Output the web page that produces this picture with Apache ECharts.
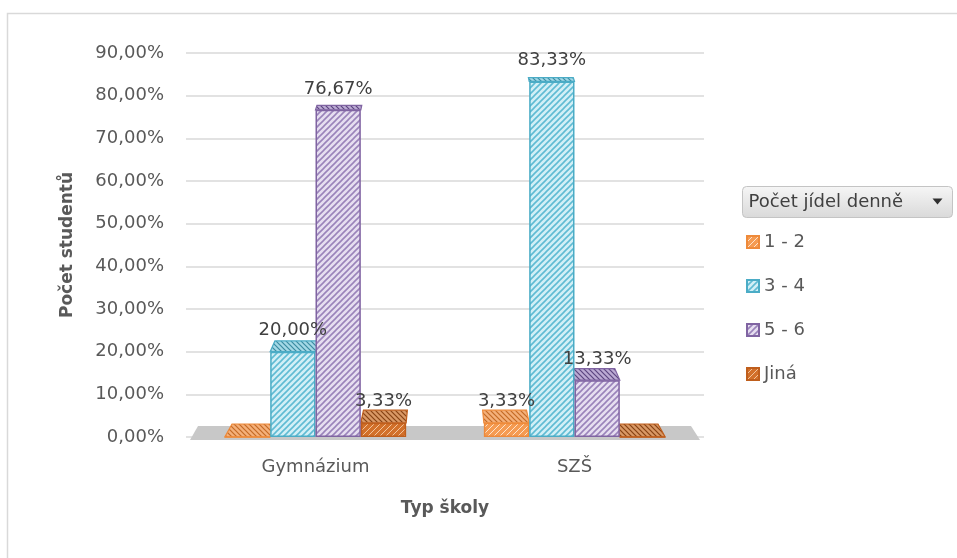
<!DOCTYPE html>
<html>
<head>
<meta charset="utf-8">
<script src="https://cdn.jsdelivr.net/npm/echarts@6/dist/echarts.min.js"></script>
<style>
  html, body { margin: 0; padding: 0; background: #ffffff; }
  #chart { width: 957px; height: 558px; }
</style>
</head>
<body>
<div id="chart"></div>
<script>
// School types on the category axis
const categories = ['Gymnázium', 'SZŠ'];
// Meals per day (legend entries)
const seriesNames = ['1 - 2', '3 - 4', '5 - 6', 'Jiná'];
// Share of students per school type, in percent
const values12 = [0, 3.33];
const values34 = [20, 83.33];
const values56 = [76.67, 13.33];
const valuesOther = [3.33, 0];
// Value axis range
const axisMax = 90;
const axisStep = 10;

const seriesValues = [values12, values34, values56, valuesOther];

const FONT = 'DejaVu Sans';
const TEXT = '#595959';
const BAR_FRAC = 0.175;

const palette = [
  { edge: '#EE8A3A', face: '#F59B52', hatch: '#FDE3CB', lw: 1.0, top: '#F4B07A', topHatch: '#C46A26' },
  { edge: '#4BACC6', face: '#D2EFF6', hatch: '#5FBBD3', lw: 1.6, top: '#A3D8E6', topHatch: '#3A8BA1' },
  { edge: '#8064A2', face: '#E6DEF0', hatch: '#9A83BA', lw: 1.6, top: '#BBAAD3', topHatch: '#5C4680' },
  { edge: '#BF5E1C', face: '#D2702A', hatch: '#F2C39B', lw: 1.0, top: '#D99865', topHatch: '#874214' }
];

// Diagonal hatch tile used as a repeating fill
function hatch(bg, fg, size, lw, backslash) {
  const c = document.createElement('canvas');
  c.width = c.height = size;
  const g = c.getContext('2d');
  g.fillStyle = bg;
  g.fillRect(0, 0, size, size);
  g.strokeStyle = fg;
  g.lineWidth = lw;
  g.beginPath();
  if (!backslash) {
    g.moveTo(-1, size + 1); g.lineTo(size + 1, -1);
    g.moveTo(-1, 1); g.lineTo(1, -1);
    g.moveTo(size - 1, size + 1); g.lineTo(size + 1, size - 1);
  } else {
    g.moveTo(-1, -1); g.lineTo(size + 1, size + 1);
    g.moveTo(size - 1, -1); g.lineTo(size + 1, 1);
    g.moveTo(-1, size - 1); g.lineTo(1, size + 1);
  }
  g.stroke();
  return { image: c, repeat: 'repeat' };
}

function fmtPct(v) {
  return v.toFixed(2).replace('.', ',') + '%';
}

// Top face of each column, drawn in perspective above the front face
function capRenderer(si) {
  const p = palette[si];
  const fill = hatch(p.top, p.topHatch, 5, 1.2, true);
  return function (params, api) {
    const cs = params.coordSys;
    const cat = api.value(0);
    const val = api.value(1);
    const band = api.size([1, 0])[0];
    const bw = band * BAR_FRAC;
    const c = api.coord([cat, val]);
    const xl = c[0] + (si - 2) * bw;
    const xr = xl + bw;
    const y = c[1];
    const depth = 3 + 10 * (y - cs.y) / cs.height;
    const vx = cs.x + cs.width / 2;
    const k = depth * 0.0025;
    return {
      type: 'polygon',
      shape: {
        points: [
          [xl, y], [xr, y],
          [xr + (vx - xr) * k, y - depth],
          [xl + (vx - xl) * k, y - depth]
        ]
      },
      style: { fill: fill, stroke: p.edge, lineWidth: 1.2 }
    };
  };
}

// Grey floor of the plot
function floorRenderer(params, api) {
  const cs = params.coordSys;
  const y0 = api.coord([0, 0])[1];
  const l = cs.x, r = cs.x + cs.width;
  return {
    type: 'polygon',
    shape: {
      points: [
        [l + 4, y0 + 3], [r - 4, y0 + 3],
        [r - 13, y0 - 11], [l + 12, y0 - 11]
      ]
    },
    style: { fill: '#c8c8c8', stroke: null }
  };
}

const barSeries = seriesNames.map(function (name, i) {
  const p = palette[i];
  return {
    name: name,
    type: 'bar',
    data: seriesValues[i],
    barWidth: (BAR_FRAC * 100) + '%',
    barGap: '0%',
    z: 4,
    itemStyle: {
      color: hatch(p.face, p.hatch, 6, p.lw, false),
      borderColor: p.edge,
      borderWidth: 1.5
    },
    label: {
      show: true,
      position: 'top',
      distance: 12,
      fontFamily: FONT,
      fontSize: 18,
      color: '#404040',
      formatter: function (d) { return d.value === 0 ? '' : fmtPct(d.value); }
    },
    emphasis: { disabled: true }
  };
});

const capSeries = seriesNames.map(function (name, i) {
  return {
    type: 'custom',
    z: 3,
    silent: true,
    renderItem: capRenderer(i),
    encode: { x: 0, y: 1 },
    data: seriesValues[i].map(function (v, j) { return [j, v]; })
  };
});

const floorSeries = {
  type: 'custom',
  z: 1,
  silent: true,
  renderItem: floorRenderer,
  encode: { x: 0, y: 1 },
  data: [[0, 0]]
};

const chart = echarts.init(document.getElementById('chart'), null, { renderer: 'canvas' });

chart.setOption({
  backgroundColor: '#ffffff',
  animation: false,
  textStyle: { fontFamily: FONT },
  grid: { left: 186, right: 253, top: 53, bottom: 121 },
  legend: {
    data: seriesNames,
    orient: 'vertical',
    left: 741,
    top: 227,
    itemWidth: 12,
    itemHeight: 12,
    itemGap: 24,
    icon: 'rect',
    selectedMode: false,
    textStyle: { fontFamily: FONT, fontSize: 18, color: TEXT, lineHeight: 20 }
  },
  xAxis: {
    type: 'category',
    data: categories,
    name: 'Typ školy',
    nameLocation: 'middle',
    nameGap: 63,
    nameTextStyle: { fontFamily: FONT, fontSize: 17, fontWeight: 'bold', color: TEXT },
    axisLine: { show: false },
    axisTick: { show: false },
    axisLabel: { fontFamily: FONT, fontSize: 18, color: TEXT, margin: 21 }
  },
  yAxis: {
    type: 'value',
    min: 0,
    max: axisMax,
    interval: axisStep,
    name: 'Počet studentů',
    nameLocation: 'middle',
    nameGap: 110,
    nameTextStyle: { fontFamily: FONT, fontSize: 17, fontWeight: 'bold', color: TEXT },
    axisLine: { show: false },
    axisTick: { show: false },
    axisLabel: {
      fontFamily: FONT, fontSize: 18, color: TEXT, margin: 22,
      formatter: function (v) { return fmtPct(v); }
    },
    splitLine: { lineStyle: { color: '#d9d9d9', width: 1.5 } }
  },
  graphic: [
    {
      type: 'rect',
      left: 5, top: 11,
      shape: { width: 960, height: 560 },
      style: { fill: 'none', stroke: '#d9d9d9', lineWidth: 1.5 },
      silent: true
    },
    {
      type: 'group',
      left: 742, top: 186,
      children: [
        {
          type: 'rect',
          shape: { x: 0, y: 0, width: 210, height: 31, r: 4 },
          style: {
            fill: new echarts.graphic.LinearGradient(0, 0, 0, 1, [
              { offset: 0, color: '#f6f6f6' },
              { offset: 1, color: '#d9d9d9' }
            ]),
            stroke: '#c4c4c4', lineWidth: 1
          }
        },
        {
          type: 'text',
          x: 6, y: 15.5,
          style: {
            text: 'Počet jídel denně',
            fontFamily: FONT, fontSize: 18, fill: '#404040',
            verticalAlign: 'middle'
          }
        },
        {
          type: 'polygon',
          shape: { points: [[190, 12], [200, 12], [195, 18]] },
          style: { fill: '#303030' }
        }
      ]
    }
  ],
  series: [floorSeries].concat(capSeries, barSeries)
});
</script>
</body>
</html>
